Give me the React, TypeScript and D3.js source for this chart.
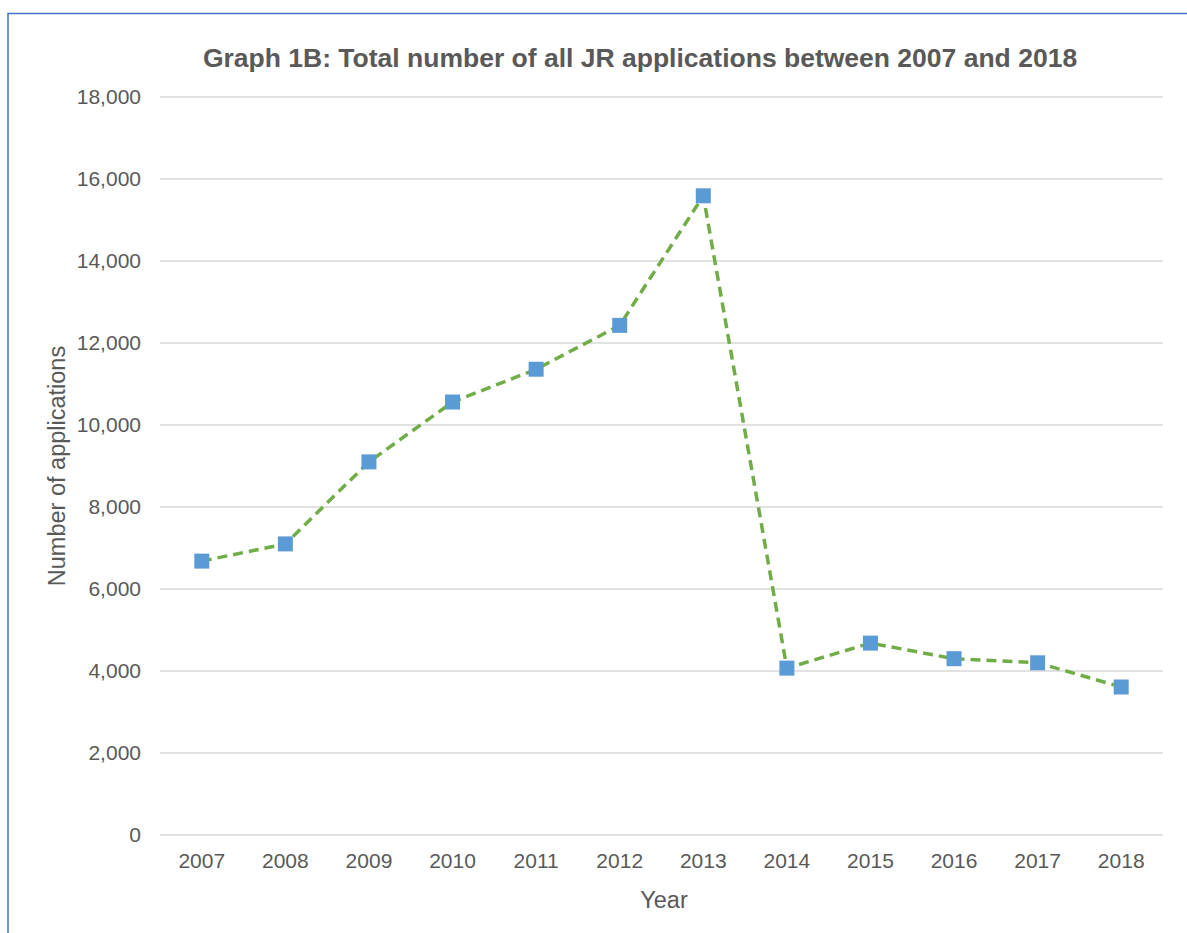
import React, { useRef, useEffect } from 'react';
import * as d3 from 'd3';

const years = ['2007', '2008', '2009', '2010', '2011', '2012', '2013', '2014', '2015', '2016', '2017', '2018'];
const applications = [6680, 7100, 9100, 10560, 11360, 12430, 15590, 4070, 4680, 4300, 4200, 3610];
const yTicks = [0, 2000, 4000, 6000, 8000, 10000, 12000, 14000, 16000, 18000];

const App: React.FC = () => {
  const ref = useRef<SVGSVGElement | null>(null);

  useEffect(() => {
    if (!ref.current) return;
    const svg = d3.select(ref.current);
    svg.selectAll('*').remove();

    const width = 1187;
    const height = 933;
    const font = 'Liberation Sans, Arial, sans-serif';
    const textColor = '#595959';

    // chart frame (only left and top edges visible in the reference)
    svg.append('path')
      .attr('d', `M8,${height} L8,13.5 L${width},13.5`)
      .attr('fill', 'none')
      .attr('stroke', '#4472C4')
      .attr('stroke-width', 1.5);

    const x = d3.scaleBand().domain(years).range([160, 1163]);
    const y = d3.scaleLinear().domain([0, 18000]).range([835, 97]);

    // gridlines
    svg.append('g')
      .selectAll('line')
      .data(yTicks)
      .enter()
      .append('line')
      .attr('x1', 160)
      .attr('x2', 1163)
      .attr('y1', d => y(d))
      .attr('y2', d => y(d))
      .attr('stroke', '#D9D9D9')
      .attr('stroke-width', 1.3);

    // y tick labels
    svg.append('g')
      .selectAll('text')
      .data(yTicks)
      .enter()
      .append('text')
      .attr('x', 141)
      .attr('y', d => y(d))
      .attr('dy', '0.35em')
      .attr('text-anchor', 'end')
      .attr('font-family', font)
      .attr('font-size', 21)
      .attr('fill', textColor)
      .text(d => d3.format(',')(d));

    // x tick labels
    svg.append('g')
      .selectAll('text')
      .data(years)
      .enter()
      .append('text')
      .attr('x', d => (x(d) as number) + x.bandwidth() / 2)
      .attr('y', 868)
      .attr('text-anchor', 'middle')
      .attr('font-family', font)
      .attr('font-size', 21)
      .attr('fill', textColor)
      .text(d => d);

    const cx = (d: string) => (x(d) as number) + x.bandwidth() / 2;

    const line = d3.line<number>()
      .x((_, i) => cx(years[i]))
      .y(d => y(d));

    svg.append('path')
      .datum(applications)
      .attr('d', line)
      .attr('fill', 'none')
      .attr('stroke', '#70AD47')
      .attr('stroke-width', 3.5)
      .attr('stroke-dasharray', '10,6');

    const m = 15;
    svg.append('g')
      .selectAll('rect')
      .data(applications)
      .enter()
      .append('rect')
      .attr('x', (_, i) => cx(years[i]) - m / 2)
      .attr('y', d => y(d) - m / 2)
      .attr('width', m)
      .attr('height', m)
      .attr('fill', '#5B9BD5');

    svg.append('text')
      .attr('x', 640)
      .attr('y', 67)
      .attr('text-anchor', 'middle')
      .attr('font-family', font)
      .attr('font-size', 26.5)
      .attr('font-weight', 'bold')
      .attr('fill', textColor)
      .text('Graph 1B: Total number of all JR applications between 2007 and 2018');

    svg.append('text')
      .attr('x', 664)
      .attr('y', 908)
      .attr('text-anchor', 'middle')
      .attr('font-family', font)
      .attr('font-size', 23.5)
      .attr('fill', textColor)
      .text('Year');

    svg.append('text')
      .attr('transform', 'translate(65,466) rotate(-90)')
      .attr('text-anchor', 'middle')
      .attr('font-family', font)
      .attr('font-size', 23.5)
      .attr('fill', textColor)
      .text('Number of applications');
  }, []);

  return (
    <svg
      ref={ref}
      width={1187}
      height={933}
      style={{ position: 'absolute', left: 0, top: 0, background: '#fff' }}
    />
  );
};

export default App;
